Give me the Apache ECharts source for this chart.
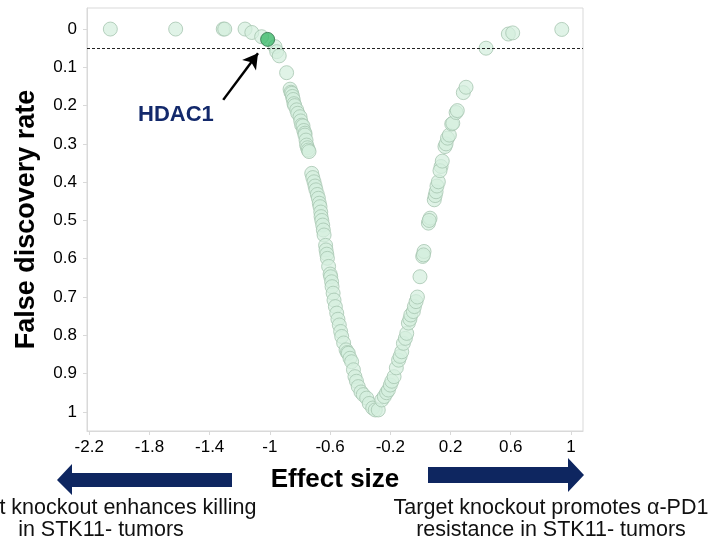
<!DOCTYPE html>
<html>
<head>
<meta charset="utf-8">
<script src="https://cdn.jsdelivr.net/npm/echarts@6/dist/echarts.min.js"></script>
<style>
html,body{margin:0;padding:0;background:#fff;}
#c{width:712px;height:541px;}
</style>
</head>
<body>
<div id="c"></div>
<script>
// ---- data ----
const effectSize = [
  -2.06,-1.626,-1.31,-1.30,-1.165,-1.12,-1.055,
  -0.966,-0.955,-0.938,-0.889,
  -0.866,-0.86,-0.855,-0.85,-0.845,-0.84,-0.835,-0.822,-0.815,-0.80,-0.795,-0.789,-0.78,-0.775,-0.767,-0.767,-0.76,-0.756,-0.75,-0.745,-0.74,
  -0.722,-0.715,-0.707,-0.70,-0.694,-0.685,-0.678,-0.672,-0.667,-0.662,-0.66,-0.655,-0.649,-0.645,-0.64,
  -0.63,-0.627,-0.622,-0.618,-0.61,-0.60,-0.596,-0.59,-0.587,-0.58,-0.574,-0.565,-0.556,-0.548,-0.539,-0.53,-0.523,-0.51,-0.494,-0.485,-0.479,-0.468,-0.457,-0.445,-0.435,-0.425,-0.413,-0.395,-0.38,-0.357,-0.34,-0.317,-0.30,-0.28,
  -0.257,-0.24,-0.225,-0.213,-0.20,-0.19,-0.175,-0.16,-0.145,-0.135,-0.124,-0.113,-0.10,-0.091,-0.08,-0.07,-0.064,-0.047,-0.04,-0.029,-0.02,
  -0.003,0.015,0.024,0.02,
  0.053,0.064,0.058,
  0.092,0.098,0.104,0.11,0.119,0.137,0.13,0.145,
  0.163,0.17,0.18,0.192,0.208,0.215,0.237,0.245,0.285,0.303,
  0.436,0.584,0.613,0.939
];
const fdr = [
  0.0,0.0,0.0,0.0,0.0,0.009,0.02,
  0.046,0.059,0.07,0.114,
  0.157,0.165,0.168,0.176,0.184,0.195,0.2,0.211,0.22,0.229,0.24,0.251,0.253,0.265,0.272,0.277,0.29,0.303,0.31,0.316,0.32,
  0.377,0.388,0.399,0.41,0.42,0.432,0.442,0.455,0.464,0.478,0.49,0.5,0.512,0.525,0.538,
  0.565,0.577,0.588,0.599,0.62,0.64,0.647,0.66,0.673,0.69,0.708,0.725,0.742,0.758,0.773,0.79,0.803,0.82,0.838,0.845,0.847,0.86,0.869,0.89,0.908,0.92,0.934,0.948,0.955,0.964,0.978,0.99,0.995,0.995,
  0.969,0.96,0.95,0.943,0.93,0.92,0.908,0.885,0.865,0.855,0.843,0.821,0.808,0.795,0.768,0.758,0.747,0.738,0.725,0.712,0.70,
  0.647,0.594,0.581,0.59,
  0.507,0.494,0.5,
  0.446,0.435,0.425,0.41,0.399,0.359,0.37,0.345,
  0.307,0.30,0.285,0.277,0.248,0.246,0.218,0.213,0.166,0.152,
  0.05,0.013,0.01,0.001
];
const highlightName = 'HDAC1';
const highlightEffect = [-1.015];
const highlightFdr = [0.027];
const fdrThreshold = 0.05;
const xTickLabels = [-2.2,-1.8,-1.4,-1,-0.6,-0.2,0.2,0.6,1];
const yTickLabels = [0,0.1,0.2,0.3,0.4,0.5,0.6,0.7,0.8,0.9,1];
const xTitle = 'Effect size';
const yTitle = 'False discovery rate';
const leftNote = ['Target knockout enhances killing','in STK11- tumors'];
const rightNote = ['Target knockout promotes \u03b1-PD1','resistance in STK11- tumors'];

const FONT = '"Liberation Sans", Arial, sans-serif';
const mainData = effectSize.map((x,i)=>[x,fdr[i]]);
const hlData = highlightEffect.map((x,i)=>[x,highlightFdr[i]]);

const chart = echarts.init(document.getElementById('c'), null, {renderer:'canvas'});
chart.setOption({
  animation:false,
  backgroundColor:'#fff',
  grid:{left:87,right:129,top:8,bottom:110,show:true,borderColor:'#d9d9d9',borderWidth:1,backgroundColor:'transparent'},
  xAxis:{
    type:'value',min:-2.215,max:1.08,
    name:xTitle,nameLocation:'middle',nameGap:36,
    nameTextStyle:{fontFamily:FONT,fontSize:26,fontWeight:'bold',color:'#000'},
    axisLine:{show:true,onZero:false,lineStyle:{color:'#d9d9d9'}},
    axisTick:{show:true,length:4,lineStyle:{color:'#d9d9d9'},customValues:xTickLabels},
    axisLabel:{fontFamily:FONT,fontSize:17,color:'#000',margin:8,customValues:xTickLabels,formatter:v=>String(v)},
    splitLine:{show:false}
  },
  yAxis:{
    type:'value',inverse:true,min:-0.055,max:1.05,
    name:yTitle,nameLocation:'middle',nameGap:47,nameRotate:90,
    nameTextStyle:{fontFamily:FONT,fontSize:27,fontWeight:'bold',color:'#000'},
    axisLine:{show:true,onZero:false,lineStyle:{color:'#d9d9d9'}},
    axisTick:{show:true,length:4,lineStyle:{color:'#d9d9d9'},customValues:yTickLabels},
    axisLabel:{fontFamily:FONT,fontSize:17,color:'#000',margin:10,customValues:yTickLabels,formatter:v=>String(v)},
    splitLine:{show:false}
  },
  series:[
    {
      type:'scatter',name:'genes',data:mainData,symbolSize:14,
      itemStyle:{color:'rgba(212,239,222,0.9)',borderColor:'#a6c6b0',borderWidth:1},
      markLine:{
        silent:true,symbol:['none','none'],label:{show:false},
        lineStyle:{type:[3,2],color:'#222',width:1},
        data:[{yAxis:fdrThreshold}]
      },
      z:2
    },
    {
      type:'scatter',name:highlightName,data:hlData,symbolSize:14,
      itemStyle:{color:'#3dba6c',borderColor:'#2b6e45',borderWidth:1},
      markLine:{
        silent:true,symbol:['none','arrow'],symbolSize:[13,15],label:{show:false},
        lineStyle:{type:'solid',color:'#000',width:2.5},
        data:[[{coord:[-1.31,0.185]},{coord:[-1.079,0.063]}]]
      },
      z:3
    }
  ],
  graphic:[
    {type:'text',left:138,top:104,style:{text:highlightName,font:'bold 22px '+FONT,fill:'#13296b'}},
    {type:'polygon',shape:{points:[[57,480],[72,464],[72,473],[232,473],[232,487],[72,487],[72,495]]},style:{fill:'#0e2660'}},
    {type:'polygon',shape:{points:[[584,475],[568,458],[568,467],[428,467],[428,483],[568,483],[568,492]]},style:{fill:'#0e2660'}},
    {type:'text',x:101,y:508,style:{text:leftNote[0],font:'21.5px '+FONT,fill:'#111',align:'center',verticalAlign:'middle'}},
    {type:'text',x:101,y:530,style:{text:leftNote[1],font:'21.5px '+FONT,fill:'#111',align:'center',verticalAlign:'middle'}},
    {type:'text',x:551,y:508,style:{text:rightNote[0],font:'21.5px '+FONT,fill:'#111',align:'center',verticalAlign:'middle'}},
    {type:'text',x:551,y:530,style:{text:rightNote[1],font:'21.5px '+FONT,fill:'#111',align:'center',verticalAlign:'middle'}}
  ]
});
</script>
</body>
</html>
